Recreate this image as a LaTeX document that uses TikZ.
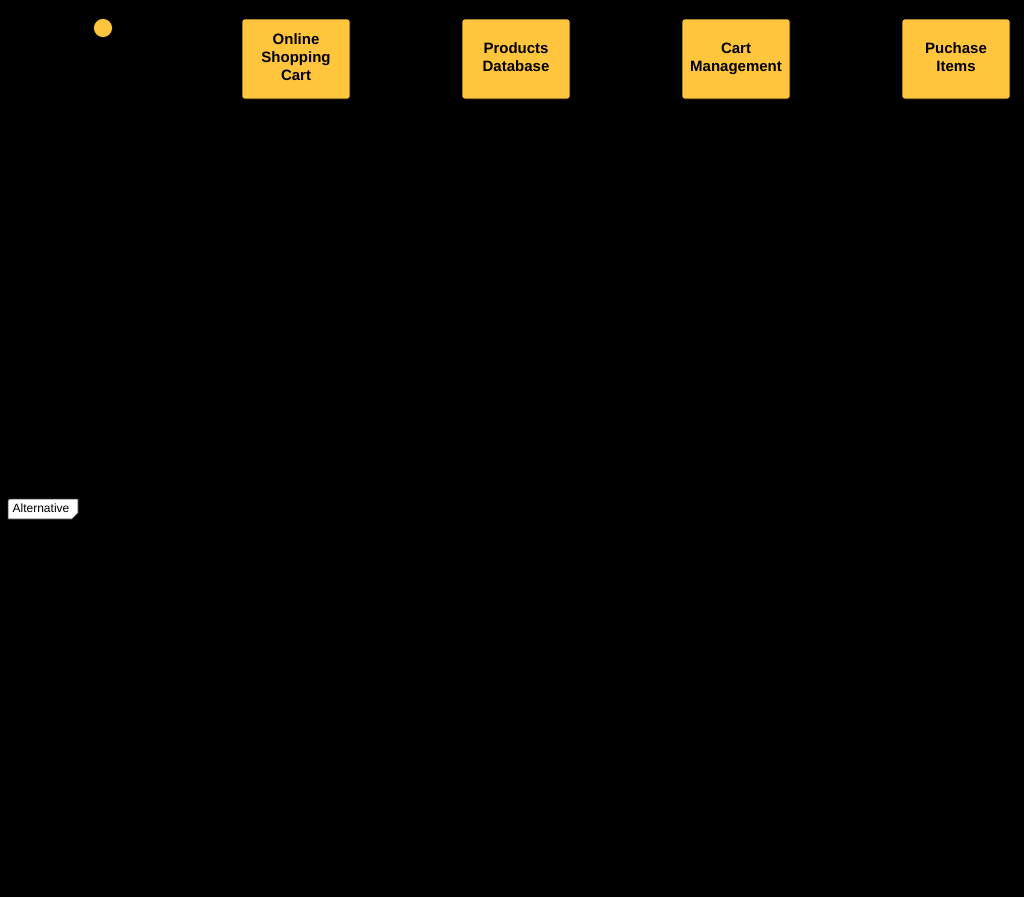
\documentclass[tikz,border=0pt]{standalone}
\usepackage{fontspec}
\setmainfont{Liberation Sans}
\definecolor{boxyellow}{HTML}{FFC53D}
\definecolor{edgegray}{HTML}{3A3A3A}
\newcommand{\myline}[1]{\strut #1}
\begin{document}
\begin{tikzpicture}[x=1pt,y=-1pt,
  lifebox/.style={draw=black,line width=0.8pt,fill=boxyellow,rounded corners=2.5pt,
    minimum width=108pt,minimum height=80pt,inner sep=0pt,align=center,
    font=\fontsize{15}{18}\selectfont\bfseries,text=black},
  tagbox/.style={fill=white,draw=edgegray,line width=0.6pt},
  tagtext/.style={font=\fontsize{12}{14}\selectfont,text=black,inner sep=0pt}]
\fill[black] (0,0) rectangle (1024,897);
\useasboundingbox (0,0) rectangle (1024,897);
% actor head
\node[circle,fill=boxyellow,draw=black,line width=0.6pt,minimum size=19pt,inner sep=0pt] (actor) at (103,28) {};
% lifeline boxes
\node[lifebox] (osc) at (296,59) {\myline{Online}\\\myline{Shopping}\\\myline{Cart}};
\node[lifebox] (pdb) at (516,59) {\myline{Products}\\\myline{Database}};
\node[lifebox] (cm) at (736,59) {\myline{Cart}\\\myline{Management}};
\node[lifebox] (pi) at (956,59) {\myline{Puchase}\\\myline{Items}};
% alternative tag
\draw[tagbox] (8,499) -- (78,499) -- (78,513) -- (72,519) -- (8,519) [rounded corners=2pt] -- cycle;
\node[tagtext] (alt) at (41,508.5) {Alternative};
\end{tikzpicture}
\end{document}
